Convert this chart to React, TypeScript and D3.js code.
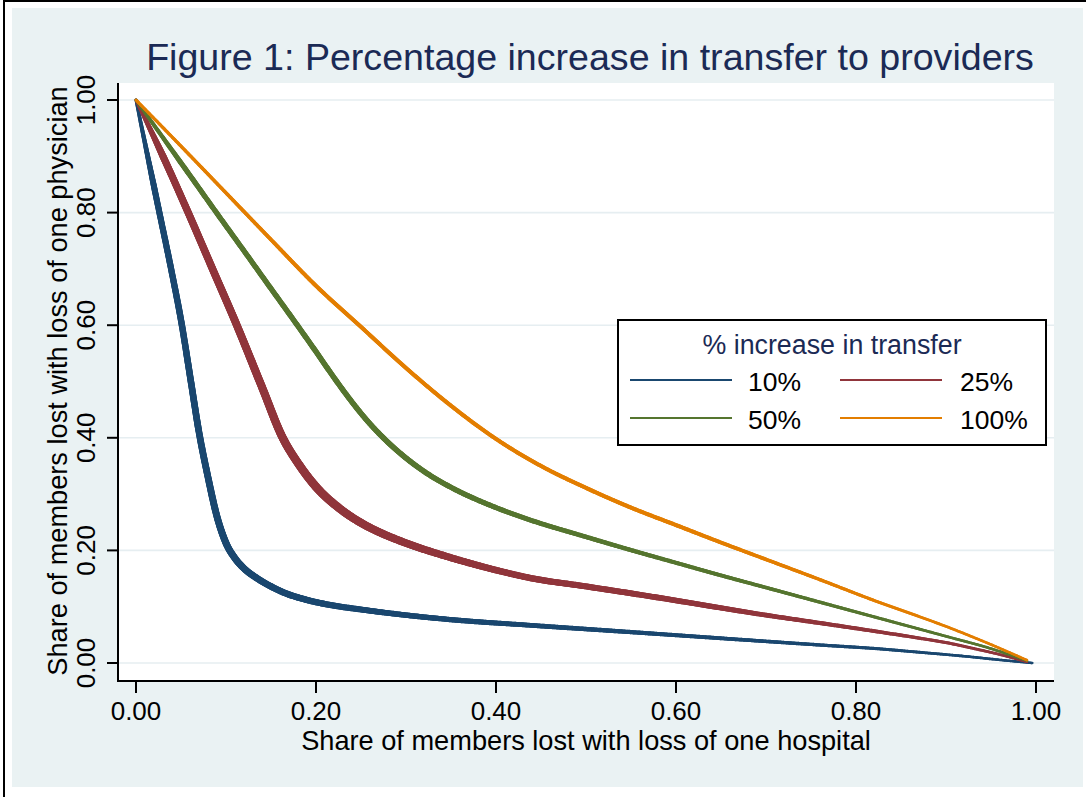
import React, { useEffect, useRef } from 'react';
import * as d3 from 'd3';

// ---------- data ----------
const TITLE = 'Figure 1: Percentage increase in transfer to providers';
const X_TITLE = 'Share of members lost with loss of one hospital';
const Y_TITLE = 'Share of members lost with loss of one physician';
const LEGEND_TITLE = '% increase in transfer';
const SERIES_NAMES = ['10%', '25%', '50%', '100%'];
const X_TICKS = [0, 0.2, 0.4, 0.6, 0.8, 1.0];
const Y_TICKS = [0, 0.2, 0.4, 0.6, 0.8, 1.0];

const X_10 = [0, 0.013, 0.026, 0.039, 0.051, 0.061, 0.07, 0.08, 0.09, 0.1, 0.11, 0.12, 0.135, 0.15, 0.163, 0.19, 0.216, 0.25, 0.3, 0.35, 0.438, 0.549, 0.649, 0.76, 0.827, 0.871, 0.927, 0.963, 0.996];
const Y_10 = [1, 0.9, 0.8, 0.7, 0.6, 0.5, 0.41, 0.33, 0.26, 0.213, 0.186, 0.168, 0.15, 0.136, 0.126, 0.112, 0.103, 0.095, 0.085, 0.077, 0.067, 0.055, 0.044, 0.032, 0.025, 0.019, 0.011, 0.005, 0];

const X_25 = [0, 0.03, 0.058, 0.085, 0.112, 0.14, 0.163, 0.18, 0.2, 0.225, 0.25, 0.275, 0.3, 0.35, 0.4, 0.438, 0.5, 0.549, 0.6, 0.649, 0.7, 0.76, 0.827, 0.871, 0.901, 0.93, 0.96, 0.99];
const Y_25 = [1, 0.9, 0.8, 0.7, 0.6, 0.49, 0.4, 0.355, 0.313, 0.276, 0.249, 0.229, 0.213, 0.187, 0.165, 0.151, 0.136, 0.124, 0.111, 0.098, 0.085, 0.071, 0.055, 0.044, 0.036, 0.026, 0.015, 0.002];

const X_50 = [0, 0.03, 0.06, 0.088, 0.12, 0.15, 0.177, 0.2, 0.216, 0.235, 0.256, 0.278, 0.3, 0.327, 0.35, 0.4, 0.438, 0.5, 0.549, 0.6, 0.649, 0.7, 0.76, 0.827, 0.871, 0.901, 0.949, 0.99];
const Y_50 = [1, 0.933, 0.866, 0.803, 0.732, 0.665, 0.605, 0.553, 0.516, 0.474, 0.432, 0.395, 0.364, 0.333, 0.312, 0.276, 0.254, 0.224, 0.201, 0.178, 0.156, 0.134, 0.108, 0.079, 0.06, 0.047, 0.026, 0.004];

const X_100 = [0, 0.05, 0.1, 0.15, 0.2, 0.25, 0.3, 0.35, 0.4, 0.45, 0.5, 0.55, 0.6, 0.65, 0.7, 0.76, 0.827, 0.871, 0.9, 0.93, 0.96, 0.99];
const Y_100 = [1, 0.918, 0.835, 0.752, 0.67, 0.597, 0.524, 0.457, 0.398, 0.35, 0.311, 0.276, 0.245, 0.214, 0.184, 0.148, 0.107, 0.082, 0.065, 0.046, 0.026, 0.005];

const SERIES_X = [X_10, X_25, X_50, X_100];
const SERIES_Y = [Y_10, Y_25, Y_50, Y_100];

// ---------- styles ----------
const COLORS = ['#1A476F', '#90353B', '#55752F', '#E37E00'];
// apparent band thickness (from the step-jitter of the original) as a function of x
const WIDTH_PROFILE = [
  { d: [0, 0.02, 0.1, 0.3, 0.6, 0.9, 1], r: [3, 6, 7, 5.5, 4, 2.7, 2.5] },
  { d: [0, 0.03, 0.2, 0.4, 0.6, 0.9, 1], r: [3, 7, 8.5, 6.5, 5.5, 3, 2.5] },
  { d: [0, 0.05, 0.3, 0.6, 0.9, 1], r: [3, 5, 5.5, 4, 2.7, 2.5] },
  { d: [0, 0.2, 0.6, 0.9, 1], r: [3, 4, 4, 2.7, 2.5] },
];

const FONT = '"Liberation Sans", Arial, Helvetica, sans-serif';
const NAVY = '#1B2A55';
const BG = '#EAF2F3';
const GRID = '#E6EEF1';

const W = 1086;
const H = 797;
const PLOT = { left: 118, right: 1054, top: 83, bottom: 681 };

const x = d3.scaleLinear().domain([0, 1]).range([136, 1036]);
const y = d3.scaleLinear().domain([0, 1]).range([663, 100]);

export default function App() {
  const gRef = useRef<SVGGElement>(null);
  const fmt = d3.format('.2f');

  useEffect(() => {
    if (!gRef.current) return;
    const g = d3.select(gRef.current);
    g.selectAll('*').remove();
    const lineGen = d3.line<[number, number]>().curve(d3.curveMonotoneX);
    SERIES_X.forEach((xs, si) => {
      const ys = SERIES_Y[si];
      const pts = xs.map((v, i) => [x(v), y(ys[i])] as [number, number]);
      const wScale = d3
        .scaleLinear()
        .domain(WIDTH_PROFILE[si].d)
        .range(WIDTH_PROFILE[si].r)
        .clamp(true);
      const tmp = g.append('path').attr('d', lineGen(pts) || '').attr('fill', 'none').attr('stroke', 'none');
      const node = tmp.node() as SVGPathElement;
      const L = node.getTotalLength();
      const step = 1.5;
      const sg = g.append('g');
      let prev = node.getPointAtLength(0);
      for (let l = step; l < L + step; l += step) {
        const p = node.getPointAtLength(Math.min(l, L));
        const w = wScale(x.invert((prev.x + p.x) / 2));
        sg.append('line')
          .attr('x1', prev.x)
          .attr('y1', prev.y)
          .attr('x2', p.x)
          .attr('y2', p.y)
          .attr('stroke', COLORS[si])
          .attr('stroke-width', w)
          .attr('stroke-linecap', 'round');
        prev = p;
      }
      tmp.remove();
    });
  }, []);

  const legend = { x: 618, y: 320, w: 428, h: 125 };
  const legendCols = [
    { x1: 630, x2: 732, tx: 748 },
    { x1: 840, x2: 942, tx: 960 },
  ];
  const legendRows = [380, 418];

  return (
    <svg
      width={W}
      height={H}
      viewBox={`0 0 ${W} ${H}`}
      style={{ position: 'absolute', left: 0, top: 0, fontFamily: FONT }}
    >
      <rect x={0} y={0} width={W} height={H} fill="#ffffff" />
      <rect x={4} y={1} width={W + 10} height={H + 10} fill="#ffffff" stroke="#000" strokeWidth={2} />
      <rect x={12} y={8} width={1071} height={779} fill={BG} />

      {/* plot region */}
      <rect x={PLOT.left} y={PLOT.top} width={PLOT.right - PLOT.left} height={PLOT.bottom - PLOT.top} fill="#ffffff" />

      {/* grid */}
      {Y_TICKS.map((t) => (
        <line key={'g' + t} x1={PLOT.left} x2={PLOT.right} y1={y(t)} y2={y(t)} stroke={GRID} strokeWidth={1.6} />
      ))}

      {/* series */}
      <g ref={gRef} />

      {/* axes */}
      <line x1={PLOT.left} x2={PLOT.left} y1={PLOT.top} y2={PLOT.bottom + 1} stroke="#000" strokeWidth={2} />
      <line x1={PLOT.left - 1} x2={PLOT.right} y1={PLOT.bottom} y2={PLOT.bottom} stroke="#000" strokeWidth={2} />
      {Y_TICKS.map((t) => (
        <g key={'yt' + t}>
          <line x1={PLOT.left - 11} x2={PLOT.left} y1={y(t)} y2={y(t)} stroke="#000" strokeWidth={2} />
          <text
            x={95}
            y={y(t)}
            transform={`rotate(-90, 95, ${y(t)})`}
            textAnchor="middle"
            fontSize={26}
            fill="#000"
          >
            {fmt(t)}
          </text>
        </g>
      ))}
      {X_TICKS.map((t) => (
        <g key={'xt' + t}>
          <line x1={x(t)} x2={x(t)} y1={PLOT.bottom} y2={PLOT.bottom + 12} stroke="#000" strokeWidth={2} />
          <text x={x(t)} y={720} textAnchor="middle" fontSize={26} fill="#000">
            {fmt(t)}
          </text>
        </g>
      ))}

      {/* axis titles */}
      <text x={586} y={750} textAnchor="middle" fontSize={27.2} fill="#000">
        {X_TITLE}
      </text>
      <text x={67} y={381} transform="rotate(-90, 67, 381)" textAnchor="middle" fontSize={27.2} fill="#000">
        {Y_TITLE}
      </text>

      {/* title */}
      <text x={590} y={70} textAnchor="middle" fontSize={37.6} fill={NAVY}>
        {TITLE}
      </text>

      {/* legend */}
      <rect x={legend.x} y={legend.y} width={legend.w} height={legend.h} fill="#ffffff" stroke="#000" strokeWidth={2} />
      <text x={legend.x + legend.w / 2} y={354} textAnchor="middle" fontSize={26.8} fill={NAVY}>
        {LEGEND_TITLE}
      </text>
      {SERIES_NAMES.map((name, i) => {
        const col = legendCols[i % 2];
        const row = legendRows[Math.floor(i / 2)];
        return (
          <g key={name}>
            <line x1={col.x1} x2={col.x2} y1={row} y2={row} stroke={COLORS[i]} strokeWidth={2.2} />
            <text x={col.tx} y={row + 11} fontSize={26.5} fill="#000">
              {name}
            </text>
          </g>
        );
      })}
    </svg>
  );
}
